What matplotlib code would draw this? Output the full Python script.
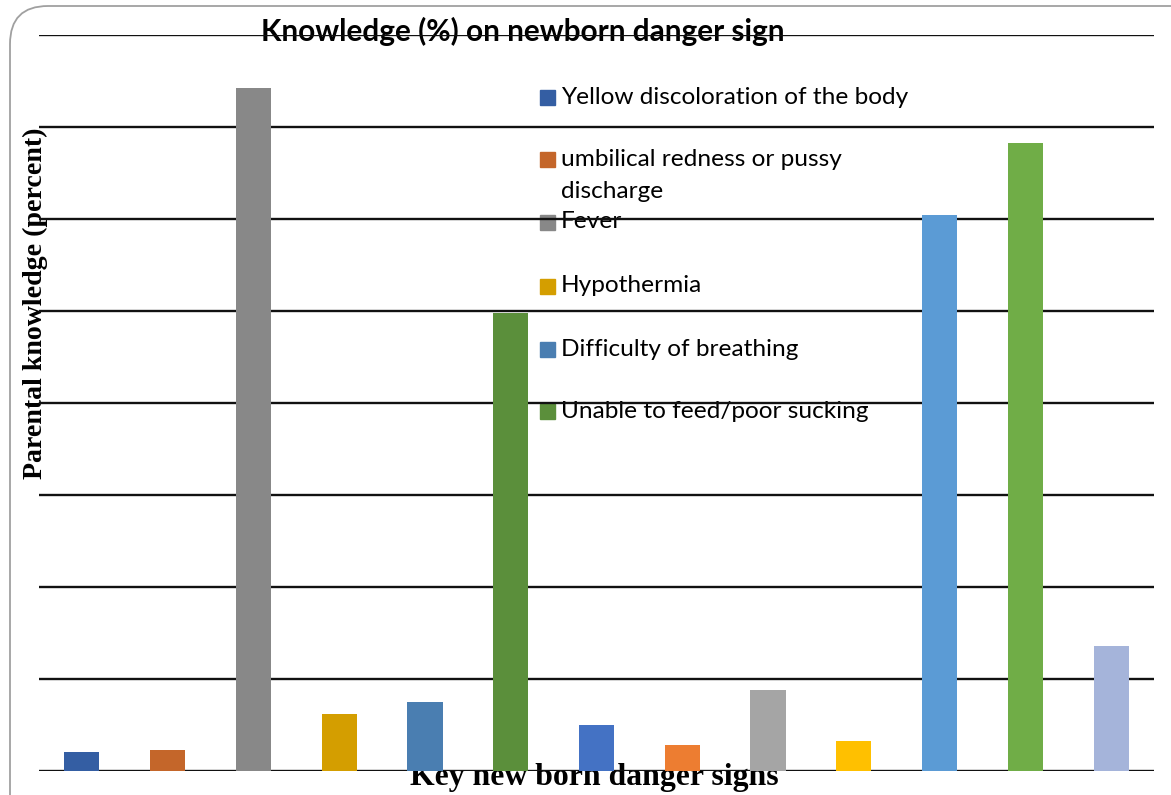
import matplotlib.pyplot as plt
import numpy as np
from matplotlib.patches import FancyBboxPatch, Rectangle

# Data (percent)
values = [2.0, 2.2, 74.2, 6.1, 7.5, 49.8, 5.0, 2.8, 8.8, 3.2, 60.4, 68.2, 13.5]
colors = ["#345EA3", "#C4662A", "#888888", "#D49E00", "#4A7EB1", "#5B8F3B",
          "#4472C4", "#ED7D31", "#A5A5A5", "#FFC000", "#5B9BD5", "#70AD47", "#A5B4DA"]
legend_labels = ["Yellow discoloration of the body",
                 "umbilical redness or pussy\ndischarge",
                 "Fever",
                 "Hypothermia",
                 "Difficulty of breathing",
                 "Unable to feed/poor sucking"]

W, H = 1171, 795
fig = plt.figure(figsize=(W / 100, H / 100), dpi=100)

# background layer in pixel coords (rounded frame, legend, labels)
bg = fig.add_axes([0, 0, 1, 1], zorder=0)
bg.set_xlim(0, W)
bg.set_ylim(H, 0)
bg.axis("off")
frame = FancyBboxPatch((10, 6), 1200, 830, boxstyle="round,pad=0,rounding_size=38",
                       fc="white", ec="#A0A0A0", lw=1.3)
bg.add_patch(frame)

# main chart
ax = fig.add_axes([39 / W, 24.5 / H, 1115 / W, 735.5 / H], zorder=1)
ax.patch.set_alpha(0)
x = np.arange(len(values))
ax.bar(x, values, width=0.41, color=colors, zorder=2)
ax.set_xlim(-0.5, len(values) - 0.5)
ax.set_ylim(0, 80)
ax.set_yticks(np.arange(0, 81, 10))
ax.set_xticks([])
ax.yaxis.grid(True, color="#111111", lw=1.7)
ax.set_axisbelow(True)
ax.tick_params(left=False, labelleft=False)
for s in ax.spines.values():
    s.set_visible(False)

# legend (first six series only, as in the picture)
legend_y = [97, 159, 222, 286, 349, 411]
for lab, col, yy in zip(legend_labels, colors, legend_y):
    bg.add_patch(Rectangle((540, yy - 7.5), 15, 15, color=col, zorder=3))
    for k, line in enumerate(lab.split("\n")):
        bg.text(561, yy + 32 * k, line, fontsize=17.6, family="Lato",
                va="center", ha="left", zorder=3)

# titles
bg.text(523, 31, "Knowledge (%) on newborn danger sign", fontsize=21.4, family="Lato",
        fontweight="bold", ha="center", va="center", zorder=3)
bg.text(594, 777, "Key new born danger signs", fontsize=22.9, family="Liberation Serif",
        fontweight="bold", ha="center", va="center", zorder=3)
bg.text(35, 303, "Parental knowledge (percent)", fontsize=20.1, family="Liberation Serif",
        fontweight="bold", ha="center", va="center", rotation=90, zorder=3)

fig.savefig("out.png", dpi=100)
